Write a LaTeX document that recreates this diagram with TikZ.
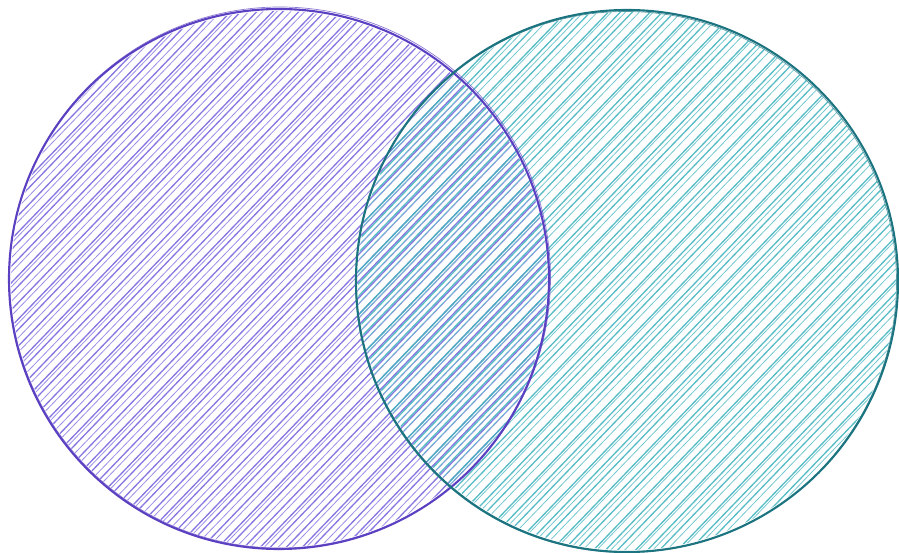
\documentclass[tikz,border=0pt]{standalone}
\usepackage{xcolor}
\usepackage{tikz}
\definecolor{vnPurple}{HTML}{5B40C2}
\definecolor{vnLilac}{HTML}{7A68DE}
\definecolor{vnTeal}{HTML}{1B7480}
\definecolor{vnAqua}{HTML}{45B5BF}
\tikzset{
  rim/.style={line width=1.2pt, line join=round},
  rimthin/.style={line width=0.4pt, opacity=0.7},
  hatch/.style={line width=0.75pt, opacity=0.9},
  hatchthin/.style={line width=0.45pt, opacity=0.75}
}

\begin{document}
\begin{tikzpicture}[x=0.02cm, y=-0.02cm]
  \useasboundingbox (0,0) rectangle (899,553);
  \coordinate (leftC) at (279,279);
  \coordinate (rightC) at (627,281);

  % hatching, left set
  \begin{scope}
    \clip (leftC) circle (268);
    \foreach \c in {0,14,...,1200} {
      \pgfmathsetmacro\jit{mod(\c*7,6)}
      \draw[hatch, vnLilac] (\c+\jit,0) -- ++(-540,560);
      \draw[hatchthin, vnLilac] (\c+6,2) -- ++(-542,562);
    }
  \end{scope}

  % hatching, right set
  \begin{scope}
    \clip (rightC) circle (269);
    \foreach \c in {300,314,...,1500} {
      \pgfmathsetmacro\jit{mod(\c*5,6)}
      \draw[hatch, vnAqua] (\c+8+\jit,0) -- ++(-540,560);
      \draw[hatchthin, vnAqua] (\c+3,-2) -- ++(-538,558);
    }
  \end{scope}

  % outlines
  \draw[rim, vnPurple] (leftC) circle (270);
  \draw[rimthin, vnPurple] ([shift={(1,-1.5)}]leftC) circle (270.5);
  \draw[rim, vnTeal] (rightC) circle (271);
  \draw[rimthin, vnTeal] ([shift={(-1,1)}]rightC) circle (270.5);
\end{tikzpicture}
\end{document}
